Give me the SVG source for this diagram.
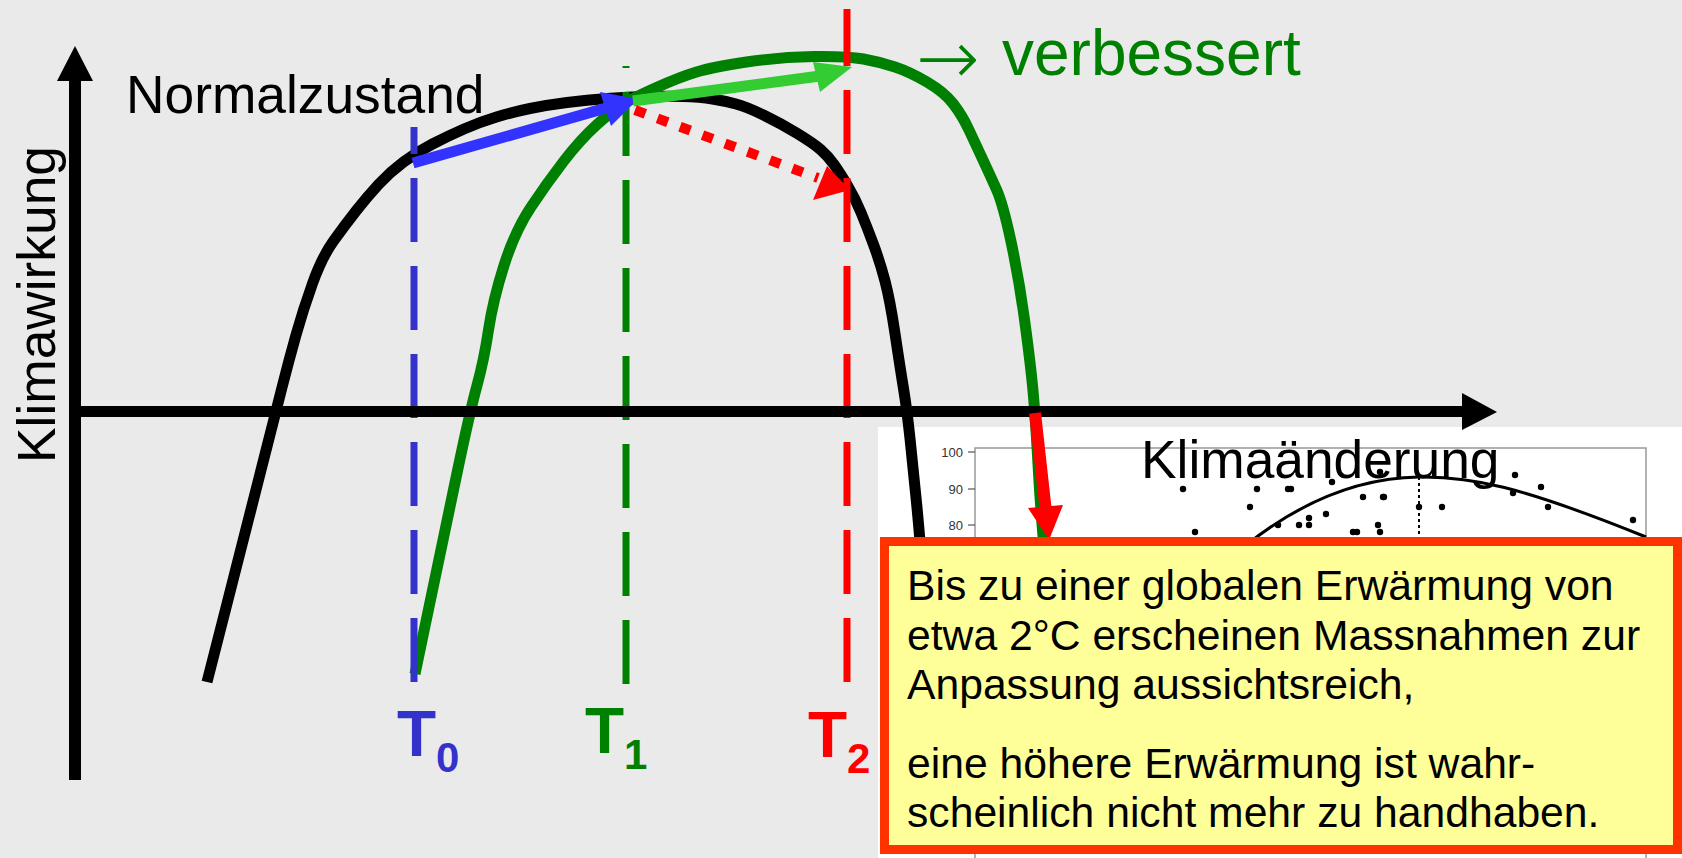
<svg xmlns="http://www.w3.org/2000/svg" width="1682" height="858" viewBox="0 0 1682 858">
<style>
  text { font-family: "Liberation Sans", Arial, sans-serif; }
  .curve { fill: none; stroke-width: 11; stroke-linejoin: round; stroke-linecap: butt; }
  .vdash { fill: none; stroke-width: 7; stroke-dasharray: 64 24; }
  .tick { font-size: 13px; fill: #333; text-anchor: end; }
  .box { font-size: 42.67px; fill: #000; }
  .tl { font-size: 64px; font-weight: bold; }
  .ts { font-size: 42px; font-weight: bold; }
</style>
<rect x="0" y="0" width="1682" height="858" fill="#eaeaea"/>

<g id="inset">
  <rect x="878" y="427" width="804" height="431" fill="#ffffff"/>
  <path d="M975,875 V448 H1646 V875" fill="none" stroke="#999" stroke-width="1.5"/>
  <g stroke="#555" stroke-width="1.2">
    <line x1="968" y1="452" x2="975" y2="452"/>
    <line x1="968" y1="489" x2="975" y2="489"/>
    <line x1="968" y1="525" x2="975" y2="525"/>
  </g>
  <text class="tick" x="963" y="457">100</text>
  <text class="tick" x="963" y="494">90</text>
  <text class="tick" x="963" y="530">80</text>
  <line x1="1419" y1="477" x2="1419" y2="560" stroke="#000" stroke-width="2" stroke-dasharray="3 3"/>
  <path d="M1245,546 C1290,510 1350,478 1419,477 C1470,476 1520,486 1646,537" fill="none" stroke="#000" stroke-width="3"/>
  <g fill="#000">
    <circle cx="1183" cy="489" r="3.2"/><circle cx="1250" cy="507" r="3.2"/>
    <circle cx="1257" cy="489" r="3.2"/><circle cx="1288" cy="489" r="3.2"/>
    <circle cx="1291" cy="489" r="3.2"/><circle cx="1195" cy="532" r="3.2"/>
    <circle cx="1278" cy="525" r="3.2"/><circle cx="1299" cy="525" r="3.2"/>
    <circle cx="1309" cy="525" r="3.2"/><circle cx="1309" cy="518" r="3.2"/>
    <circle cx="1326" cy="514" r="3.2"/><circle cx="1332" cy="482" r="3.2"/>
    <circle cx="1363" cy="497" r="3.2"/><circle cx="1384" cy="497" r="3.2"/>
    <circle cx="1378" cy="525" r="3.2"/><circle cx="1380" cy="532" r="3.2"/>
    <circle cx="1353" cy="532" r="3.2"/><circle cx="1357" cy="532" r="3.2"/>
    <circle cx="1380" cy="472" r="3.2"/><circle cx="1419" cy="507" r="3.2"/>
    <circle cx="1442" cy="507" r="3.2"/><circle cx="1515" cy="475" r="3.2"/>
    <circle cx="1513" cy="493" r="3.2"/><circle cx="1541" cy="487" r="3.2"/>
    <circle cx="1548" cy="507" r="3.2"/><circle cx="1633" cy="520" r="3.2"/>
    <circle cx="1383" cy="497" r="3.2"/>
  </g>
</g>

<g id="curve-normal">
  <path class="curve" stroke="#000" d="M207,682 L224.5,613.5 Q242,545 259,478 Q276,411 282.5,385.5 Q289,360 296,335 Q303,310 312.5,283.5 Q322,257 333.5,241 Q345,225 356,211 Q367,197 378.5,184.5 Q390,172 403.5,162 Q417,152 432.5,144 Q448,136 464,129 Q480,122 496.5,117 Q513,112 530,108.5 Q547,105 567,102.5 Q587,100 607,98.5 Q627,97 646,96.5 Q665,96 682.5,96.5 Q700,97 712.5,99 Q725,101 736,104 Q747,107 763.5,115 Q780,123 796.5,133 Q813,143 820.5,149.5 Q828,156 834,164.5 Q840,173 847.5,185.5 Q855,198 861,212.5 Q867,227 873.5,244.5 Q880,262 885,281 Q890,300 895,333.5 Q900,367 903.5,388.5 Q907,410 910,438.5 Q913,467 916.5,502.5 Q920,538 922,569 L924,600"/>
</g>

<g id="curve-improved">
  <path class="curve" stroke="#008000" d="M415,674 L429,607 Q443,540 456.5,475.5 Q470,411 477,385.5 Q484,360 488.5,330 Q493,300 504,265.5 Q515,231 531,207 Q547,183 563.5,161.5 Q580,140 596.5,125 Q613,110 623,104 Q633,98 656.5,87.5 Q680,77 696.5,72 Q713,67 746.5,62 Q780,57 813.5,56.5 Q847,56 863.5,59 Q880,62 895,67 Q910,72 927,82 Q944,92 953,103.5 Q962,115 969,130 Q976,145 983,160 Q990,175 996.5,189.5 Q1003,204 1011,241.5 Q1019,279 1024.5,319.5 Q1030,360 1032.5,385.5 Q1035,411 1037.5,455.5 Q1040,500 1042.5,530 L1045,560"/>
</g>

<g id="marks">
  <line class="vdash" stroke="#3333cc" x1="414" y1="127" x2="414" y2="682" stroke-dashoffset="37"/>
  <line class="vdash" stroke="#008000" x1="626" y1="66" x2="626" y2="688" stroke-dashoffset="62"/>
  <line class="vdash" stroke="#ff0000" x1="847" y1="9" x2="847" y2="682" stroke-dashoffset="7"/>
</g>

<g id="axes">
  <line x1="75" y1="780" x2="75" y2="78" stroke="#000" stroke-width="12"/>
  <polygon points="75,46 57,81 93,81" fill="#000"/>
  <line x1="69" y1="411.5" x2="1465" y2="411.5" stroke="#000" stroke-width="11"/>
  <polygon points="1497,412 1462,393 1462,430" fill="#000"/>
</g>

<g id="connectors">
  <line x1="413" y1="163" x2="606" y2="108" stroke="#3333ff" stroke-width="11"/>
  <polygon points="638,99 600,92 611,126" fill="#3333ff"/>
  <line x1="633" y1="101" x2="820" y2="76" stroke="#33cc33" stroke-width="11"/>
  <polygon points="852,67 813,62 820,92" fill="#33cc33"/>
  <line x1="635" y1="110" x2="818" y2="178" stroke="#ff0000" stroke-width="10" stroke-dasharray="11 13"/>
  <polygon points="850,190 813,200 827,166" fill="#ff0000"/>
  <line x1="1035" y1="413" x2="1046" y2="512" stroke="#ff0000" stroke-width="12"/>
  <polygon points="1049,540 1028,508 1063,505" fill="#ff0000"/>
</g>

<g id="labels">
  <text x="126" y="113" font-size="53.3">Normalzustand</text>
  <text x="916" y="75" font-size="64" fill="#008000"><tspan font-family="DejaVu Sans" font-weight="200" font-size="76" y="84">→</tspan><tspan x="1002" y="75">verbessert</tspan></text>
  <text transform="translate(55,463) rotate(-90)" font-size="53.3">Klimawirkung</text>
  <text x="1141" y="478" font-size="53.3">Klimaänderung</text>
  <text fill="#3333cc"><tspan class="tl" x="397" y="756">T</tspan><tspan class="ts" x="436" y="772">0</tspan></text>
  <text fill="#008000"><tspan class="tl" x="585" y="753">T</tspan><tspan class="ts" x="624" y="769">1</tspan></text>
  <text fill="#ff0000"><tspan class="tl" x="808" y="757">T</tspan><tspan class="ts" x="847" y="773">2</tspan></text>
</g>

<g id="note">
  <rect x="884.5" y="541.5" width="793" height="308" fill="#ffff99" stroke="#ff3300" stroke-width="9"/>
  <text class="box" x="907" y="600">Bis zu einer globalen Erwärmung von</text>
  <text class="box" x="907" y="649.5">etwa 2°C erscheinen Massnahmen zur</text>
  <text class="box" x="907" y="699">Anpassung aussichtsreich,</text>
  <text class="box" x="907" y="777.5">eine höhere Erwärmung ist wahr-</text>
  <text class="box" x="907" y="827">scheinlich nicht mehr zu handhaben.</text>
</g>
</svg>
